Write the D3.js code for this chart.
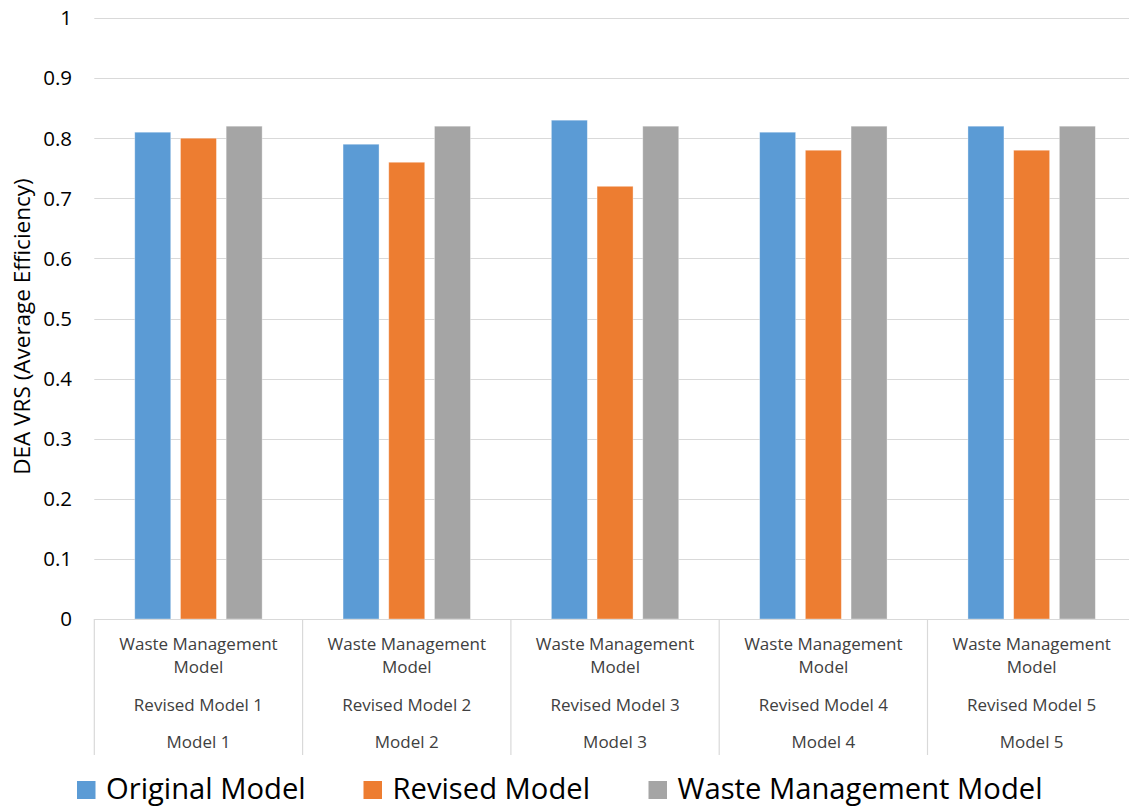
<!DOCTYPE html>
<html>
<head>
<meta charset="utf-8">
<script src="https://cdn.jsdelivr.net/npm/d3@7"></script>
<style>
  html, body { margin: 0; padding: 0; background: #fff; }
  svg { display: block; font-family: "Open Sans", sans-serif; }
</style>
</head>
<body>
<svg id="chart" width="1129" height="807"></svg>
<script>
// ---- data ----
const models = ["Model 1", "Model 2", "Model 3", "Model 4", "Model 5"];
const revisedLabels = ["Revised Model 1", "Revised Model 2", "Revised Model 3", "Revised Model 4", "Revised Model 5"];
const wasteLabel = ["Waste Management", "Model"];
const seriesNames = ["Original Model", "Revised Model", "Waste Management Model"];
const originalValues = [0.81, 0.79, 0.83, 0.81, 0.82];
const revisedValues = [0.80, 0.76, 0.72, 0.78, 0.78];
const wasteValues = [0.82, 0.82, 0.82, 0.82, 0.82];
const yTicks = [0, 0.1, 0.2, 0.3, 0.4, 0.5, 0.6, 0.7, 0.8, 0.9, 1];
const yTitle = "DEA VRS (Average Efficiency)";

(function () {
const colors = ["#5b9bd5", "#ed7d31", "#a5a5a5"];
const seriesValues = [originalValues, revisedValues, wasteValues];

const svg = d3.select("#chart");
const pLeft = 94.3, pRight = 1135.8, pTop = 18, pBottom = 619;

const x = d3.scaleBand().domain(models).range([pLeft, pRight]).paddingInner(0).paddingOuter(0);
const y = d3.scaleLinear().domain([0, 1]).range([pBottom, pTop]);
const barW = 36, barStep = 45.7;

// gridlines
svg.append("g").selectAll("line").data(yTicks.filter(d => d > 0)).join("line")
  .attr("x1", pLeft).attr("x2", pRight)
  .attr("y1", d => Math.round(y(d)) + 0.5).attr("y2", d => Math.round(y(d)) + 0.5)
  .attr("stroke", "#d9d9d9").attr("stroke-width", 1.2);

// y tick labels
svg.append("g").selectAll("text").data(yTicks).join("text")
  .attr("x", 72).attr("y", d => y(d)).attr("dy", "0.36em")
  .attr("text-anchor", "end").attr("font-size", 20.5).attr("fill", "#000")
  .text(d => String(+d.toFixed(1)));

// y title
svg.append("text")
  .attr("transform", `translate(30,${(170 + 483) / 2}) rotate(-90)`)
  .attr("text-anchor", "middle").attr("font-size", 22.5).attr("fill", "#000")
  .text(yTitle);

// bars
const bars = [];
models.forEach((m, i) => {
  seriesValues.forEach((vals, s) => {
    bars.push({ m: m, s: s, v: vals[i] });
  });
});
svg.append("g").selectAll("rect").data(bars).join("rect")
  .attr("x", d => x(d.m) + x.bandwidth() / 2 + (d.s - 1) * barStep - barW / 2)
  .attr("width", barW)
  .attr("y", d => y(d.v))
  .attr("height", d => y(0) - y(d.v))
  .attr("fill", d => colors[d.s])
  .attr("stroke", "#ffffff").attr("stroke-opacity", 0.45).attr("stroke-width", 0.8);

// category axis (multi-level)
const axisG = svg.append("g");
axisG.append("line").attr("x1", pLeft).attr("x2", pRight)
  .attr("y1", pBottom + 0.5).attr("y2", pBottom + 0.5)
  .attr("stroke", "#d9d9d9").attr("stroke-width", 1.2);
const bounds = models.map(m => x(m)).concat([x(models[models.length - 1]) + x.bandwidth()]);
axisG.selectAll("line.sep").data(bounds).join("line").attr("class", "sep")
  .attr("x1", d => d).attr("x2", d => d)
  .attr("y1", pBottom).attr("y2", 755)
  .attr("stroke", "#d9d9d9").attr("stroke-width", 1.2);

const lab = axisG.selectAll("g.lab").data(models).join("g").attr("class", "lab")
  .attr("transform", d => `translate(${x(d) + x.bandwidth() / 2},0)`);
lab.append("text").attr("y", 650).attr("text-anchor", "middle").attr("font-size", 17).attr("fill", "#404040").text(wasteLabel[0]);
lab.append("text").attr("y", 673).attr("text-anchor", "middle").attr("font-size", 17).attr("fill", "#404040").text(wasteLabel[1]);
lab.append("text").attr("y", 711).attr("text-anchor", "middle").attr("font-size", 17).attr("fill", "#404040").text((d, i) => revisedLabels[i]);
lab.append("text").attr("y", 748).attr("text-anchor", "middle").attr("font-size", 17).attr("fill", "#404040").text(d => d);

// legend
const legX = [77, 363.5, 648.5];
const leg = svg.append("g").selectAll("g").data(seriesNames).join("g")
  .attr("transform", (d, i) => `translate(${legX[i]},0)`);
leg.append("rect").attr("x", 0).attr("y", 781).attr("width", 18.5).attr("height", 18)
  .attr("fill", (d, i) => colors[i]);
leg.append("text").attr("x", 29).attr("y", 799).attr("font-size", 29.2).attr("fill", "#000").text(d => d);
})();
</script>
</body>
</html>
